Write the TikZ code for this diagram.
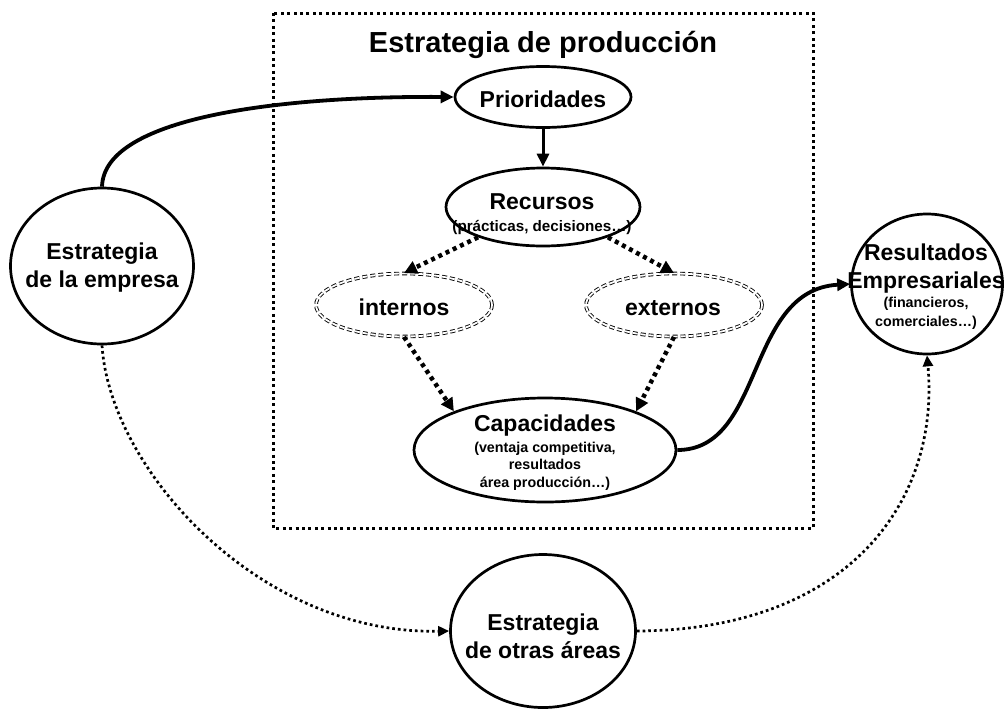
\documentclass[tikz,border=0pt]{standalone}
\usepackage{fontspec}
\setmainfont{Liberation Sans}
\usetikzlibrary{arrows.meta,shapes.geometric}
\newcommand\smtxt[1]{{\fontsize{14.3}{18}\selectfont #1}}
\newcommand\smtxtb[1]{{\fontsize{15.2}{18}\selectfont #1}}
\begin{document}
\begin{tikzpicture}[x=1pt,y=-1pt,
  oval/.style={draw,ellipse,line width=2.7pt,inner sep=0pt},
  dbloval/.style={draw,ellipse,line width=0.9pt,double,double distance=1.8pt,dash pattern=on 5pt off 3pt,inner sep=0pt},
  txt/.style={align=center,inner sep=0pt,font=\bfseries\fontsize{23}{28}\selectfont},
  titletxt/.style={inner sep=0pt,font=\bfseries\fontsize{29}{34}\selectfont},
  boxframe/.style={line width=3pt,dash pattern=on 3pt off 3.4pt},
  solidarrow/.style={line width=3.8pt,-{Triangle[length=13pt,width=12pt]}},
  dotarrow/.style={line width=4.5pt,dash pattern=on 4pt off 4pt,-{Triangle[length=13pt,width=13pt]}},
  thindot/.style={line width=2.7pt,dash pattern=on 2.7pt off 3pt,-{Triangle[length=11pt,width=10pt]}}
]
\useasboundingbox (0,0) rectangle (1008,710);

% frame
\draw[boxframe] (273,13) rectangle (813,528);
\node[titletxt] (title) at (543,45) {Estrategia de producción};

% ovals
\node[oval,minimum width=176pt,minimum height=61pt] (pri) at (543,97) {};
\node[txt] (priT) at (543,99) {Prioridades};

\node[oval,minimum width=194pt,minimum height=78pt] (rec) at (543,207) {};
\node[txt] (recT) at (542,214) {Recursos\\[-6pt]\smtxtb{(prácticas, decisiones…)}};

\node[dbloval,minimum width=176pt,minimum height=63pt] (int) at (404,305) {};
\node[txt,anchor=base] (intT) at (404,315) {internos};

\node[dbloval,minimum width=176pt,minimum height=63pt] (ext) at (674,305) {};
\node[txt,anchor=base] (extT) at (673,315) {externos};

\node[oval,minimum width=262pt,minimum height=104pt] (cap) at (545,450) {};
\node[txt] (capT) at (545,453) {Capacidades\\[-7pt]\smtxt{(ventaja competitiva,}\\[-11pt]\smtxt{resultados}\\[-10pt]\smtxt{área producción…)}};

\node[oval,minimum width=183pt,minimum height=156pt] (emp) at (102,266) {};
\node[txt] (empT) at (102,268) {Estrategia\\de la empresa};

\node[oval,minimum width=151pt,minimum height=140pt] (res) at (927,284) {};
\node[txt] (resT) at (926,287) {Resultados\\Empresariales\\[-9pt]\smtxt{(financieros,}\\[-9pt]\smtxt{comerciales…)}};

\node[oval,minimum width=185pt,minimum height=153pt] (otr) at (543,631) {};
\node[txt] (otrT) at (543,636) {Estrategia\\de otras áreas};

% connectors
\draw[solidarrow] (emp.north) .. controls (104,115) and (290,96) .. (pri.west);
\draw[solidarrow,line width=3pt] (pri.south) -- (rec.north);
\draw[dotarrow] (rec.205) -- (int.north);
\draw[dotarrow] (rec.335) -- (ext.north);
\draw[dotarrow] (int.south) -- (cap.157);
\draw[dotarrow] (ext.south) -- (cap.23);
\draw[solidarrow] (cap.east) .. controls (765,450) and (745,290) .. (res.west);
\draw[thindot] (emp.south) .. controls (110,470) and (260,635) .. (otr.west);
\draw[thindot] (otr.east) .. controls (850,630) and (940,500) .. (res.south);
\end{tikzpicture}
\end{document}
